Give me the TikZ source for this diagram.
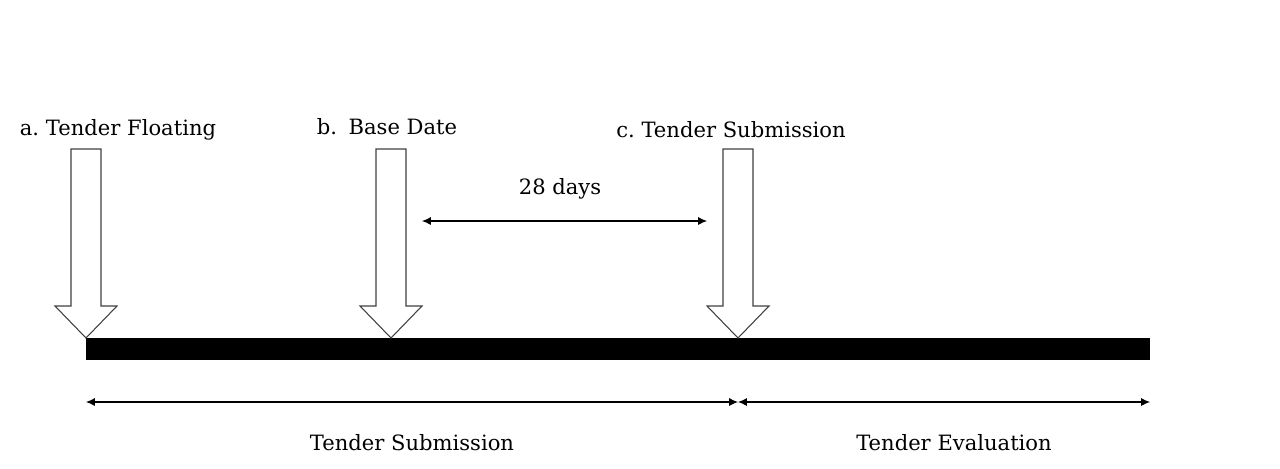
\documentclass[tikz,border=0pt]{standalone}
\usepackage{fontspec}
\setmainfont{DejaVu Serif}
\usetikzlibrary{arrows.meta}

\begin{document}
\begin{tikzpicture}[x=0.02cm,y=-0.02cm,
	blockarrow/.style={draw=black!75,line width=0.6pt,fill=white},
	span/.style={{Latex[length=5pt,width=4.5pt]}-{Latex[length=5pt,width=4.5pt]},line width=0.6pt},
	lbl/.style={font=\fontsize{12}{14}\selectfont,inner sep=0pt}]
	\useasboundingbox (0,0) rectangle (1280,468);

	% time line
	\fill[black] (86,338) rectangle (1150,360);
	\coordinate (start) at (86,402);
	\coordinate (split) at (738,402);
	\coordinate (finish) at (1150,402);

	% the three milestones
	\coordinate (tipA) at (86,338);
	\coordinate (tipB) at (391,338);
	\coordinate (tipC) at (738,338);
	\foreach \t in {tipA,tipB,tipC}
		\draw[blockarrow] (\t) -- ++(-31,-32) -- ++(16,0) -- ++(0,-157) -- ++(30,0) -- ++(0,157) -- ++(16,0) -- cycle;

	\node[lbl] (floating) at (118,130) {a.\ Tender Floating};
	\node[lbl] (base) at (387,127) {b.\hspace{0.55em}Base Date};
	\node[lbl] (submission) at (731,130) {c.\ Tender Submission};

	% 28 days between base date and submission
	\coordinate (daysL) at (422,221);
	\coordinate (daysR) at (707,221);
	\draw[span] (daysL) -- (daysR);
	\node[lbl] (days) at (560,189) {28 days};

	% phases
	\draw[span] (start) -- (split);
	\draw[span] (split) -- (finish);
	\node[lbl] (phase1) at (412,443) {Tender Submission};
	\node[lbl] (phase2) at (954,443) {Tender Evaluation};
\end{tikzpicture}
\end{document}
